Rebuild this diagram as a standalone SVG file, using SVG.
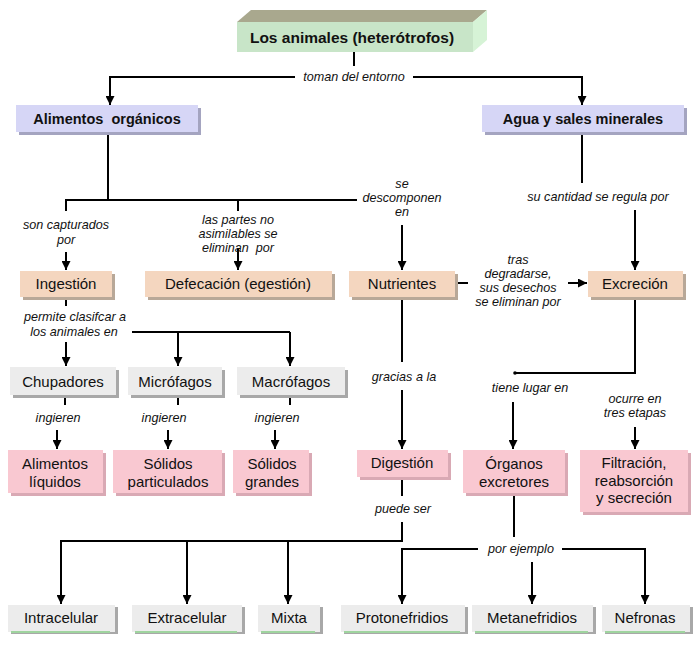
<svg xmlns="http://www.w3.org/2000/svg" width="700" height="657" viewBox="0 0 700 657">
<defs>
<marker id="ah" viewBox="0 0 10 10" refX="10" refY="5" markerWidth="9" markerHeight="9" markerUnits="userSpaceOnUse" orient="auto"><path d="M0,0 L10,5 L0,10 z" fill="#000"/></marker>
</defs>
<style>
text{font-family:"Liberation Sans",Arial,sans-serif;fill:#111;text-anchor:middle}
.t{font-size:15px}
.b{font-size:14.5px;font-weight:bold}
.l{font-size:12.6px;font-style:italic}
.c{fill:none;stroke:#000;stroke-width:2}
.a{fill:none;stroke:#000;stroke-width:2;marker-end:url(#ah)}
.sh{fill:#a8a8a8}
.lav{fill:#d6d6f6}
.bei{fill:#f4d6bf}
.pk{fill:#f9c8d1}
.gr{fill:#ececec}
.shp{fill:#d9a9b4}
.shb{fill:#b8a898}
.shl{fill:#a4a4c0}
.gl{stroke:#9fd49f;stroke-width:2}
</style>
<rect width="700" height="657" fill="#fff"/>
<g id="connectors">
<path class="c" d="M354,52 V66"/>
<path class="a" d="M295,77 H110 V105"/>
<path class="a" d="M413,77 H582 V105"/>
<path class="c" d="M108,133 V200"/>
<path class="c" d="M66,211 V200 H357"/>
<path class="c" d="M238,200 V211"/>
<path class="a" d="M66,252 V270"/>
<path class="a" d="M238,248 V270"/>
<path class="a" d="M402,225 V270"/>
<path class="c" d="M582,133 V183"/>
<path class="a" d="M635,210 V270"/>
<path class="c" d="M455,283 H468"/>
<path class="a" d="M568,283 H587"/>
<path class="c" d="M66,297 V306"/>
<path class="a" d="M66,342 V366"/>
<path class="c" d="M132,332 H290"/>
<path class="a" d="M178,332 V366"/>
<path class="a" d="M290,332 V366"/>
<path class="c" d="M65,395 V405"/>
<path class="c" d="M178,395 V405"/>
<path class="c" d="M290,395 V405"/>
<path class="a" d="M57,430 V449"/>
<path class="a" d="M168,430 V449"/>
<path class="a" d="M275,430 V449"/>
<path class="c" d="M402,297 V362"/>
<path class="a" d="M402,390 V449"/>
<path class="c" d="M635,297 V373 H515"/>
<circle cx="515" cy="373" r="1.8" fill="#000"/>
<path class="a" d="M513,402 V449"/>
<path class="a" d="M635,427 V449"/>
<path class="c" d="M402,477 V496"/>
<path class="c" d="M402,522 V541 H61"/>
<path class="a" d="M61,540 V604"/>
<path class="a" d="M187,541 V604"/>
<path class="a" d="M288,541 V604"/>
<path class="c" d="M514,493 V537"/>
<path class="a" d="M478,549 H402 V604"/>
<path class="a" d="M562,549 H645 V604"/>
<path class="a" d="M532,562 V604"/>
<text class="l" x="354" y="81">toman del entorno</text>
<text class="l" x="66" y="229">son capturados</text>
<text class="l" x="66" y="244">por</text>
<text class="l" x="238" y="224">las partes no</text>
<text class="l" x="238" y="238">asimilables se</text>
<text class="l" x="238" y="252" xml:space="preserve">eliminan  por</text>
<text class="l" x="402" y="188">se</text>
<text class="l" x="402" y="202">descomponen</text>
<text class="l" x="402" y="216">en</text>
<text class="l" x="598" y="201">su cantidad se regula por</text>
<text class="l" x="518" y="264">tras</text>
<text class="l" x="518" y="278">degradarse,</text>
<text class="l" x="518" y="292">sus desechos</text>
<text class="l" x="518" y="306">se eliminan por</text>
<text class="l" x="75" y="321">permite clasifcar a</text>
<text class="l" x="74" y="336">los animales en</text>
<text class="l" x="58" y="422">ingieren</text>
<text class="l" x="164" y="422">ingieren</text>
<text class="l" x="277" y="422">ingieren</text>
<text class="l" x="404" y="381">gracias a la</text>
<text class="l" x="530" y="392">tiene lugar en</text>
<text class="l" x="635" y="403">ocurre en</text>
<text class="l" x="635" y="417">tres etapas</text>
<text class="l" x="403" y="513">puede ser</text>
<text class="l" x="521" y="553">por ejemplo</text>
</g>
<g id="n-animales">
<polygon points="237,22 251,10 487,10 473,22" fill="#a9a88e"/>
<polygon points="473,22 487,10 487,40 473,52" fill="#d6f3d6"/>
<rect x="237" y="22" width="236" height="30" fill="#c8e5c8"/>
<text class="b" style="font-size:15.5px" x="352" y="43">Los animales (heterótrofos)</text>
</g>
<g id="n-alimentos">
<rect class="shl" x="19" y="108" width="182" height="27"/>
<rect class="lav" x="16" y="105" width="182" height="27"/>
<text class="b" x="107" y="124" xml:space="preserve">Alimentos  orgánicos</text>
</g>
<g id="n-agua">
<rect class="shl" x="485" y="108" width="202" height="27"/>
<rect class="lav" x="482" y="105" width="202" height="27"/>
<text class="b" x="583" y="124">Agua y sales minerales</text>
</g>
<g id="n-ingestion">
<rect class="shb" x="23" y="274" width="92" height="26"/>
<rect class="bei" x="20" y="271" width="92" height="26"/>
<text class="t" x="66" y="289">Ingestión</text>
</g>
<g id="n-defecacion">
<rect class="shb" x="148" y="274" width="187" height="26"/>
<rect class="bei" x="145" y="271" width="187" height="26"/>
<text class="t" x="238" y="289">Defecación (egestión)</text>
</g>
<g id="n-nutrientes">
<rect class="shb" x="352" y="274" width="106" height="26"/>
<rect class="bei" x="349" y="271" width="106" height="26"/>
<text class="t" x="402" y="289">Nutrientes</text>
</g>
<g id="n-excrecion">
<rect class="shb" x="591" y="274" width="95" height="26"/>
<rect class="bei" x="588" y="271" width="95" height="26"/>
<text class="t" x="635" y="289">Excreción</text>
</g>
<g id="n-chupadores">
<rect class="sh" x="13" y="370" width="106" height="28"/>
<rect class="gr" x="10" y="367" width="106" height="28"/>
<text class="t" x="63" y="387">Chupadores</text>
</g>
<g id="n-microfagos">
<rect class="sh" x="131" y="370" width="94" height="28"/>
<rect class="gr" x="128" y="367" width="94" height="28"/>
<text class="t" x="175" y="387">Micrófagos</text>
</g>
<g id="n-macrofagos">
<rect class="sh" x="240" y="370" width="108" height="28"/>
<rect class="gr" x="237" y="367" width="108" height="28"/>
<text class="t" x="291" y="387">Macrófagos</text>
</g>
<g id="n-liquidos">
<rect class="shp" x="11" y="453" width="95" height="43"/>
<rect class="pk" x="8" y="450" width="95" height="43"/>
<text class="t" x="55" y="469">Alimentos</text>
<text class="t" x="55" y="487">líquidos</text>
</g>
<g id="n-particulados">
<rect class="shp" x="116" y="453" width="109" height="43"/>
<rect class="pk" x="113" y="450" width="109" height="43"/>
<text class="t" x="168" y="469">Sólidos</text>
<text class="t" x="168" y="487">particulados</text>
</g>
<g id="n-grandes">
<rect class="shp" x="236" y="453" width="76" height="43"/>
<rect class="pk" x="233" y="450" width="76" height="43"/>
<text class="t" x="272" y="469">Sólidos</text>
<text class="t" x="272" y="487">grandes</text>
</g>
<g id="n-digestion">
<rect class="shp" x="360" y="453" width="91" height="27"/>
<rect class="pk" x="357" y="450" width="91" height="27"/>
<text class="t" x="402" y="468">Digestión</text>
</g>
<g id="n-organos">
<rect class="shp" x="466" y="453" width="102" height="43"/>
<rect class="pk" x="463" y="450" width="102" height="43"/>
<text class="t" x="514" y="469">Órganos</text>
<text class="t" x="514" y="487">excretores</text>
</g>
<g id="n-filtracion">
<rect class="shp" x="583" y="453" width="108" height="62"/>
<rect class="pk" x="580" y="450" width="108" height="62"/>
<text class="t" x="634" y="468">Filtración,</text>
<text class="t" x="634" y="486">reabsorción</text>
<text class="t" x="634" y="503">y secreción</text>
</g>
<g id="n-intracelular">
<rect class="sh" x="11" y="607" width="107" height="27"/>
<rect class="gr" x="8" y="605" width="107" height="27"/>
<line class="gl" x1="11" y1="632" x2="110" y2="632"/>
<text class="t" x="61" y="623">Intracelular</text>
</g>
<g id="n-extracelular">
<rect class="sh" x="135" y="607" width="110" height="27"/>
<rect class="gr" x="132" y="605" width="110" height="27"/>
<line class="gl" x1="135" y1="632" x2="237" y2="632"/>
<text class="t" x="187" y="623">Extracelular</text>
</g>
<g id="n-mixta">
<rect class="sh" x="261" y="607" width="62" height="27"/>
<rect class="gr" x="258" y="605" width="62" height="27"/>
<line class="gl" x1="261" y1="632" x2="315" y2="632"/>
<text class="t" x="289" y="623">Mixta</text>
</g>
<g id="n-protonefridios">
<rect class="sh" x="344" y="607" width="124" height="27"/>
<rect class="gr" x="341" y="605" width="124" height="27"/>
<line class="gl" x1="344" y1="632" x2="460" y2="632"/>
<text class="t" x="402" y="623">Protonefridios</text>
</g>
<g id="n-metanefridios">
<rect class="sh" x="475" y="607" width="121" height="27"/>
<rect class="gr" x="472" y="605" width="121" height="27"/>
<line class="gl" x1="475" y1="632" x2="588" y2="632"/>
<text class="t" x="532" y="623">Metanefridios</text>
</g>
<g id="n-nefronas">
<rect class="sh" x="605" y="607" width="88" height="27"/>
<rect class="gr" x="602" y="605" width="88" height="27"/>
<line class="gl" x1="605" y1="632" x2="685" y2="632"/>
<text class="t" x="645" y="623">Nefronas</text>
</g>
</svg>
